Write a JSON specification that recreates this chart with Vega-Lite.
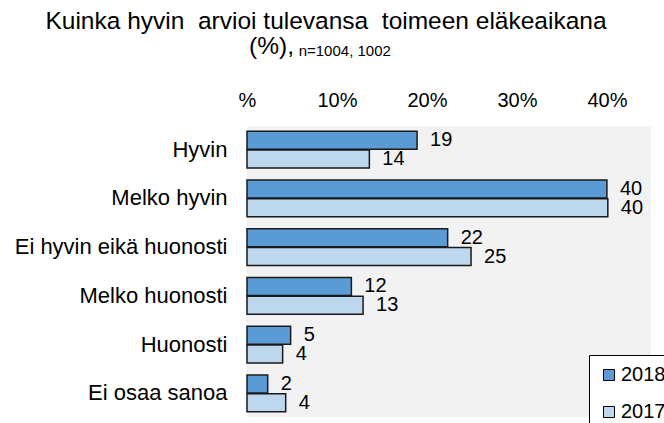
{
  "$schema": "https://vega.github.io/schema/vega-lite/v6.json",
  "autosize": {"type": "none"},
  "width": 404,
  "height": 291,
  "padding": {"left": 247, "top": 126, "right": 13, "bottom": 6},
  "background": "white",
  "config": {
    "font": "Liberation Sans",
    "view": {"fill": "#f2f2f2", "stroke": null}
  },
  "title": {
    "text": ["Kuinka hyvin\u00a0 arvioi tulevansa\u00a0 toimeen eläkeaikana", "(%),\u00a0\u00a0\u00a0\u00a0\u00a0\u00a0\u00a0\u00a0\u00a0\u00a0\u00a0\u00a0\u00a0\u00a0\u00a0\u00a0\u200b"],
    "subtitle": "\u200b\u00a0\u00a0\u00a0\u00a0\u00a0\u00a0\u00a0\u00a0\u00a0n=1004, 1002",
    "fontSize": 24.5,
    "fontWeight": "normal",
    "lineHeight": 25,
    "subtitleFontSize": 15,
    "subtitlePadding": -15,
    "color": "black",
    "subtitleColor": "black",
    "anchor": "middle",
    "frame": "group",
    "dx": -123,
    "offset": 30
  },
  "data": {
    "values": [
      {"kategoria": "Hyvin", "vuosi": "2018", "pct": 18.9},
      {"kategoria": "Hyvin", "vuosi": "2017", "pct": 13.6},
      {"kategoria": "Melko hyvin", "vuosi": "2018", "pct": 40.0},
      {"kategoria": "Melko hyvin", "vuosi": "2017", "pct": 40.1},
      {"kategoria": "Ei hyvin eikä huonosti", "vuosi": "2018", "pct": 22.3},
      {"kategoria": "Ei hyvin eikä huonosti", "vuosi": "2017", "pct": 24.9},
      {"kategoria": "Melko huonosti", "vuosi": "2018", "pct": 11.6},
      {"kategoria": "Melko huonosti", "vuosi": "2017", "pct": 12.9},
      {"kategoria": "Huonosti", "vuosi": "2018", "pct": 4.85},
      {"kategoria": "Huonosti", "vuosi": "2017", "pct": 3.96},
      {"kategoria": "Ei osaa sanoa", "vuosi": "2018", "pct": 2.3},
      {"kategoria": "Ei osaa sanoa", "vuosi": "2017", "pct": 4.3}
    ]
  },
  "encoding": {
    "y": {
      "field": "kategoria",
      "type": "nominal",
      "sort": ["Hyvin", "Melko hyvin", "Ei hyvin eikä huonosti", "Melko huonosti", "Huonosti", "Ei osaa sanoa"],
      "scale": {"paddingInner": 0.25, "paddingOuter": 0.11},
      "axis": {
        "title": null,
        "ticks": false,
        "domain": false,
        "labelFontSize": 22,
        "labelColor": "black",
        "labelPadding": 20,
        "labelLimit": 400
      }
    },
    "yOffset": {
      "field": "vuosi",
      "type": "nominal",
      "sort": ["2018", "2017"],
      "scale": {"paddingInner": 0.05}
    },
    "x": {
      "field": "pct",
      "type": "quantitative",
      "scale": {"domain": [0, 44.9], "nice": false},
      "axis": {
        "orient": "top",
        "title": null,
        "values": [0, 10, 20, 30, 40],
        "labelExpr": "datum.value == 0 ? '%' : datum.value + '%'",
        "ticks": false,
        "domain": false,
        "grid": false,
        "labelFontSize": 20,
        "labelColor": "black",
        "labelPadding": 16,
        "labelFlush": false
      }
    }
  },
  "layer": [
    {
      "mark": {"type": "bar", "stroke": "#1a1a1a", "strokeWidth": 1.5},
      "encoding": {
        "color": {
          "field": "vuosi",
          "type": "nominal",
          "scale": {"domain": ["2018", "2017"], "range": ["#5b9bd5", "#bdd7ee"]},
          "legend": {
            "title": null,
            "orient": "none",
            "legendX": 342,
            "legendY": 229,
            "direction": "vertical",
            "fillColor": "white",
            "strokeColor": "black",
            "padding": 10,
            "symbolType": "square",
            "symbolSize": 121,
            "symbolStrokeColor": "black",
            "symbolStrokeWidth": 1,
            "symbolOpacity": 1,
            "labelFontSize": 20,
            "labelColor": "black",
            "labelOffset": 2,
            "rowPadding": 17
          }
        }
      }
    },
    {
      "mark": {"type": "text", "align": "left", "baseline": "middle", "dx": 13, "fontSize": 20, "color": "black"},
      "encoding": {
        "text": {"field": "pct", "type": "quantitative", "format": ".0f"}
      }
    }
  ]
}
